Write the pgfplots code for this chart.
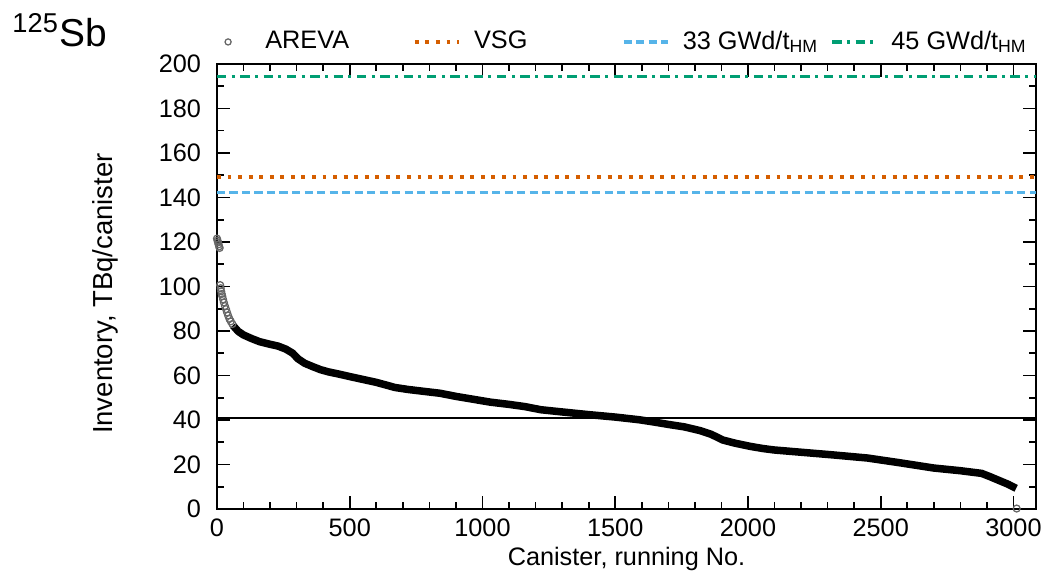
\documentclass[border=0pt]{standalone}
\usepackage{pgfplots}
\pgfplotsset{compat=1.18}
\usepackage{fontspec}
\setmainfont{Liberation Sans}
\definecolor{vsg}{RGB}{213,94,0}
\definecolor{gwdA}{RGB}{86,180,233}
\definecolor{gwdB}{RGB}{0,158,115}

\pgfplotstableread{
x y
60 82.5
80 79.8
100 78.2
130 76.6
160 75.2
200 74.0
230 73.2
260 71.8
285 70.0
305 67.5
330 65.5
360 64.0
390 62.6
420 61.6
460 60.6
500 59.5
550 58.2
600 56.9
640 55.6
670 54.6
720 53.7
790 52.7
840 52.0
900 50.6
960 49.4
1030 48.0
1100 47.0
1160 46.0
1220 44.6
1300 43.6
1400 42.4
1500 41.3
1590 40.1
1650 39.0
1700 38.0
1760 36.9
1820 35.2
1860 33.6
1885 32.2
1905 31.0
1950 29.6
2010 28.1
2060 27.1
2100 26.5
2200 25.5
2320 24.3
2450 22.9
2570 20.8
2700 18.4
2800 17.2
2880 16.0
2910 14.6
2940 13.1
2980 11.1
3010 9.3
}\areva

\pgfplotstableread{
x y
0 121.5
2 120.6
4 119.8
6 118.9
8 118.0
10 117.3
12 100.6
14 99.2
16 97.8
18 96.6
20 95.6
23 94.2
26 92.8
30 91.2
34 89.8
38 88.3
42 86.9
47 85.4
52 84.3
58 83.1
3012 0.2
}\arevapts

\begin{document}
\begin{tikzpicture}[font=\fontsize{9.1}{11}\selectfont]
\begin{axis}[
  name=ax,
  scale only axis,
  width=294.8pt, height=160.2pt,
  xmin=0, xmax=3085, ymin=0, ymax=200,
  xtick={0,500,...,3000}, ytick={0,20,...,200},
  minor x tick num=4, minor y tick num=1,
  tick align=inside,
  major tick length=4.7pt, minor tick length=2.5pt,
  tick style={black, line width=0.6pt},
  axis line style={line width=0.7pt},
  /pgf/number format/assume math mode=true,
  scaled ticks=false,
  xticklabel style={/pgf/number format/1000 sep={}},
  yticklabel style={xshift=-2.2pt},
  xlabel={Canister, running No.},
  ylabel={Inventory, TBq/canister},
  xlabel style={at={(axis description cs:0.5,-0.112)}, anchor=center},
  ylabel style={at={(axis description cs:-0.1368,0.484)}, anchor=center, font=\fontsize{9.9}{11}\selectfont},
  clip mode=individual,
  legend columns=4,
  legend style={at={(rel axis cs:0,1)}, anchor=west, xshift=-3.9pt, yshift=7.9pt,
    draw=none, fill=none, inner sep=0pt,
    nodes={inner sep=0pt},
    /tikz/every odd column/.append style={column sep=4.7pt}},
  legend image code/.code={\draw[mark repeat=2,mark phase=2] plot coordinates {(0pt,0pt)(8pt,0pt)(16pt,0pt)};},
]
\addplot[black, line width=2.7pt, no marks, forget plot] table[x=x,y=y] {\areva};
\addplot[only marks, mark=o, mark size=1.25pt, draw=black!60, mark options={line width=0.45pt},
  legend image code/.code={\path (0pt,-2pt) (16pt,2pt); \draw[black!60, line width=0.45pt] (7.5pt,0pt) circle[radius=1.1pt];}]
  table[x=x,y=y] {\arevapts};
\addlegendentry{\makebox[53.2pt][l]{AREVA}}
\addplot[vsg, line width=1.25pt, dash pattern=on 1.4pt off 2.4pt] coordinates {(0,149.2) (3085,149.2)};
\addlegendentry{\makebox[53.2pt][l]{VSG}}
\addplot[gwdA, line width=1.2pt, dash pattern=on 3pt off 1.5pt] coordinates {(0,142.3) (3085,142.3)};
\addlegendentry{\makebox[53.2pt][l]{33 GWd/t\textsubscript{HM}}}
\addplot[gwdB, line width=1.2pt, dash pattern=on 3.4pt off 1.9pt on 1.1pt off 2pt] coordinates {(0,194.3) (3085,194.3)};
\addlegendentry{45 GWd/t\textsubscript{HM}}
\addplot[black, line width=0.45pt, forget plot] coordinates {(0,40.9) (3085,40.9)};
\node[anchor=base west, inner sep=0pt, xshift=-73.8pt, yshift=6.1pt, font=\fontsize{14}{16}\selectfont] at (rel axis cs:0,1) {\textsuperscript{125}Sb};
\end{axis}
\pgfresetboundingbox
\path ([shift={(-78.1pt,-24.5pt)}]ax.south west) rectangle ([shift={(2.5pt,23pt)}]ax.north east);
\end{tikzpicture}
\end{document}
